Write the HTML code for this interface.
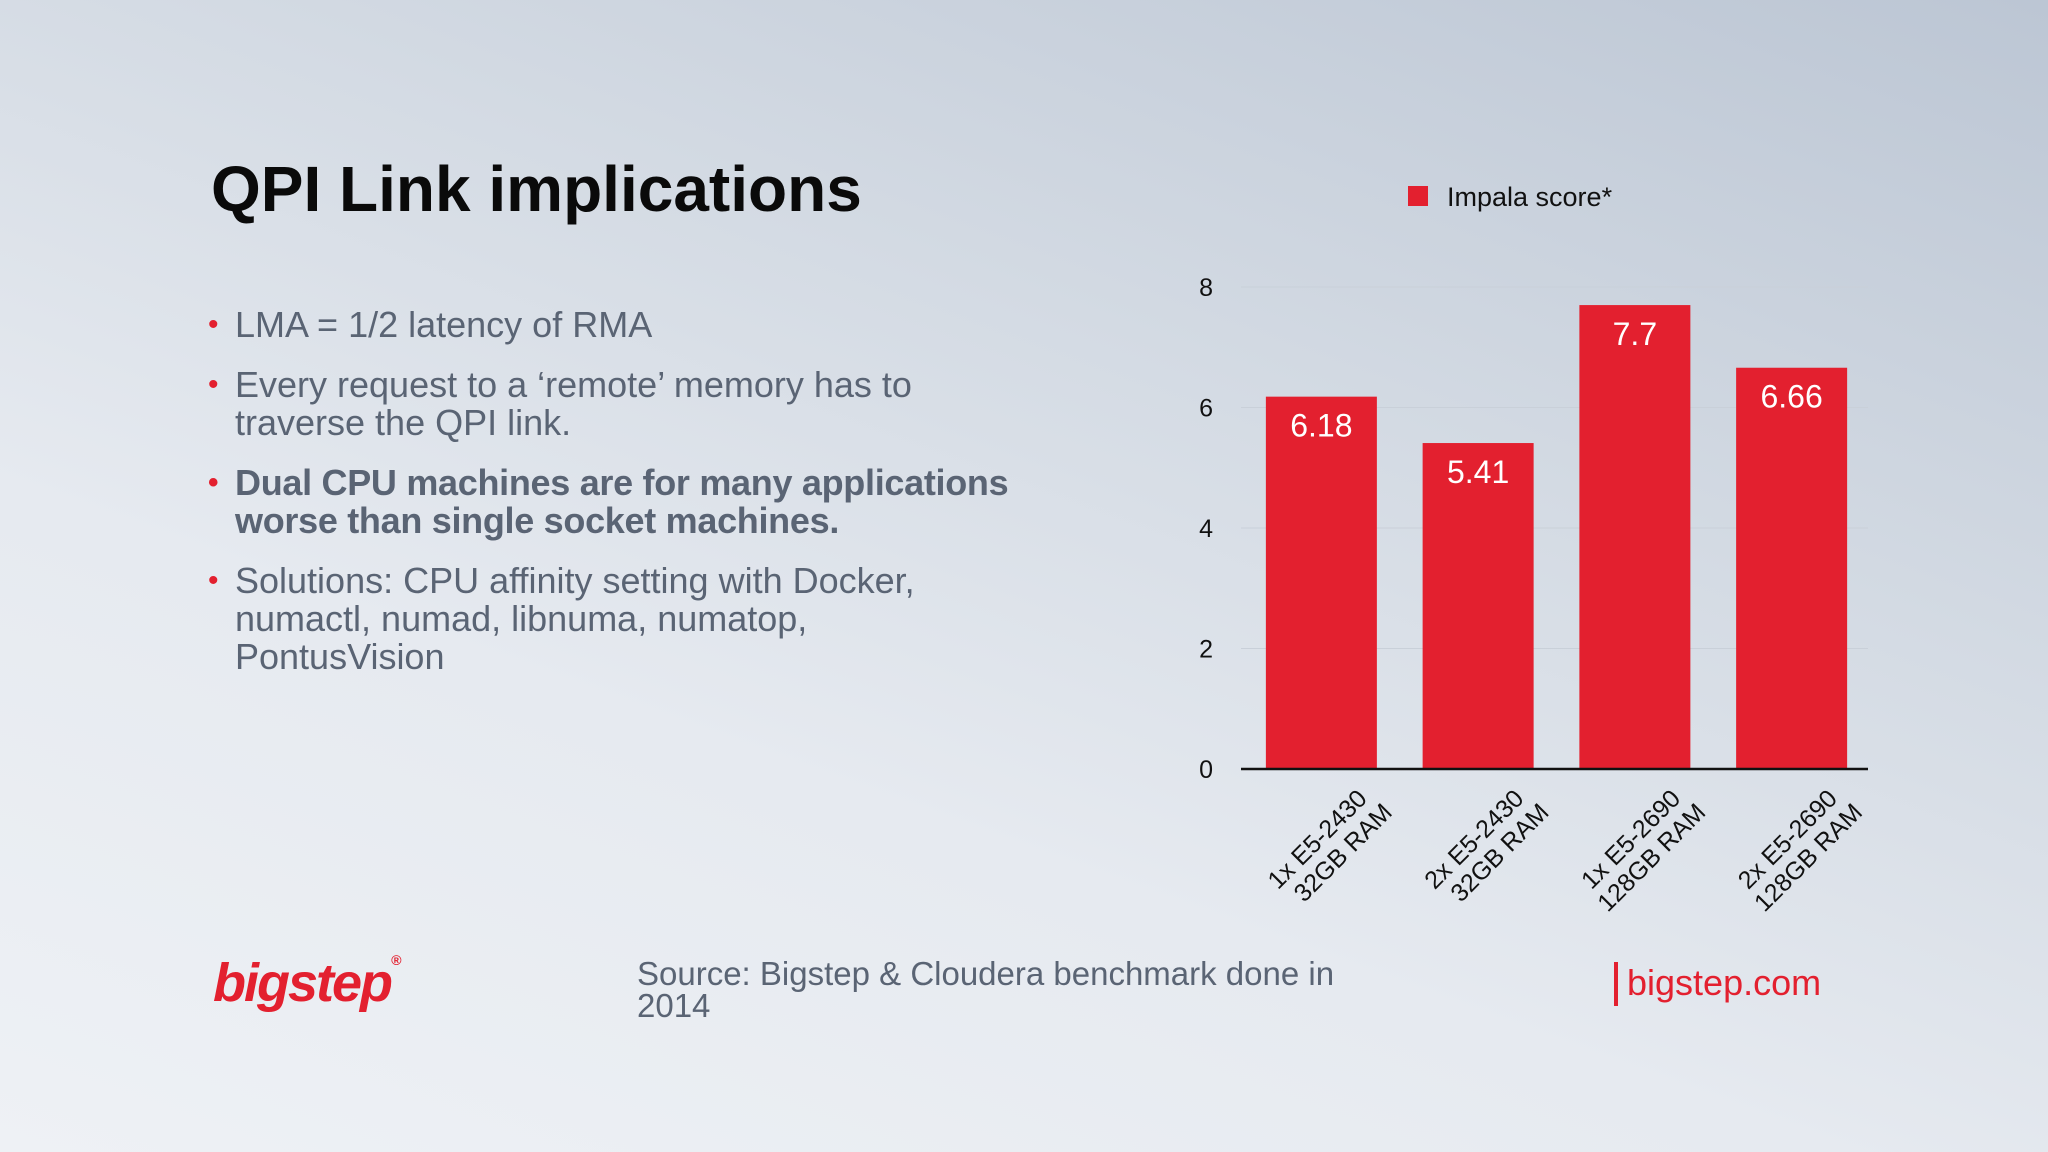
<!DOCTYPE html>
<html><head><meta charset="utf-8">
<style>
html,body{margin:0;padding:0;}
body{width:2048px;height:1152px;overflow:hidden;position:relative;font-family:"Liberation Sans",sans-serif;
background:linear-gradient(200deg,#bcc6d4 0%,#d3dae3 35%,#e6eaf0 65%,#eef1f5 100%);}
.t{position:absolute;white-space:nowrap;}
#title{left:211px;top:152px;font-size:64px;font-weight:bold;color:#0a0a0a;letter-spacing:0px;}
.b{position:absolute;left:235px;font-size:36px;color:#5a6474;line-height:38px;}
.b:before{content:"•";color:#e3202f;position:absolute;left:-27px;font-size:30px;}
.bold{font-weight:bold;letter-spacing:-0.3px;}
</style></head><body>
<div class="t" id="title">QPI Link implications</div>
<div class="b" style="top:306px">LMA = 1/2 latency of RMA</div>
<div class="b" style="top:366px">Every request to a ‘remote’ memory has to<br>traverse the QPI link.</div>
<div class="b bold" style="top:464px">Dual CPU machines are for many applications<br>worse than single socket machines.</div>
<div class="b" style="top:562px">Solutions: CPU affinity setting with Docker,<br>numactl, numad, libnuma, numatop,<br>PontusVision</div>
<div class="t" style="left:213px;top:952px;font-size:54px;font-weight:bold;font-style:italic;color:#e3202f;letter-spacing:-2px">bigstep<span style="font-size:14px;vertical-align:top">®</span></div>
<div class="t" style="left:637px;top:958px;font-size:33px;color:#5a6474;line-height:32px">Source: Bigstep &amp; Cloudera benchmark done in<br>2014</div>
<div style="position:absolute;left:1614px;top:962px;width:4px;height:44px;background:#e3202f"></div>
<div class="t" style="left:1627px;top:962px;font-size:36px;color:#e3202f">bigstep.com</div>
<svg id="chart" width="2048" height="1152" style="position:absolute;left:0;top:0"></svg>
<script>
const categories=[["1x E5-2430","32GB RAM"],["2x E5-2430","32GB RAM"],["1x E5-2690","128GB RAM"],["2x E5-2690","128GB RAM"]];
const values=[6.18,5.41,7.7,6.66];
const valueLabels=["6.18","5.41","7.7","6.66"];
const ticks=[0,2,4,6,8];
const NS="http://www.w3.org/2000/svg";
const svg=document.getElementById('chart');
const x0=1241,x1=1868,y0=769,y8=287;
const y=v=>y0-(v/8)*(y0-y8);
const step=(x1-x0)/categories.length;
const cx=i=>x0+step*(i+0.5)+2;
const bw=111;
function mk(t,a,txt){const e=document.createElementNS(NS,t);for(const k in a)e.setAttribute(k,a[k]);if(txt!==undefined)e.textContent=txt;svg.appendChild(e);return e;}
ticks.forEach(t=>{
 if(t>0){const g=mk('line',{x1:x0,x2:x1,y1:y(t),y2:y(t),stroke:'#c9d0d9','stroke-width':1});
 
 }
 const l=mk('text',{x:1213,y:y(t)+9,'text-anchor':'end','font-size':25,fill:'#111','font-family':'Liberation Sans'},t);
 
 
});
values.forEach((v,i)=>{
 const r=mk('rect',{x:cx(i)-bw/2,y:y(v),width:bw,height:y0-y(v),fill:'#e3202f'});
 
 
 const t=mk('text',{x:cx(i),y:y(v)+40,'text-anchor':'middle','font-size':32,fill:'#fff','font-family':'Liberation Sans'},valueLabels[i]);
 
 
 const ax=cx(i)+47,ay=800;
 const g=mk('text',{transform:`translate(${ax},${ay}) rotate(-45)`,'text-anchor':'end','font-size':25,fill:'#111','font-family':'Liberation Sans'});
 
 
 categories[i].forEach((s,j)=>{const ts=document.createElementNS(NS,'tspan');ts.setAttribute('x',j?8:0);ts.setAttribute('dy',j?'1.1em':0);ts.textContent=s;g.appendChild(ts);});
});
const ax=mk('line',{x1:x0,x2:x1,y1:y0,y2:y0,stroke:'#111','stroke-width':2.5});


const ls=mk('rect',{x:1408,y:186,width:20,height:20,fill:'#e3202f'});


const lt=mk('text',{x:1447,y:206,'font-size':27,fill:'#111','font-family':'Liberation Sans'},'Impala score*');


</script>
</body></html>
